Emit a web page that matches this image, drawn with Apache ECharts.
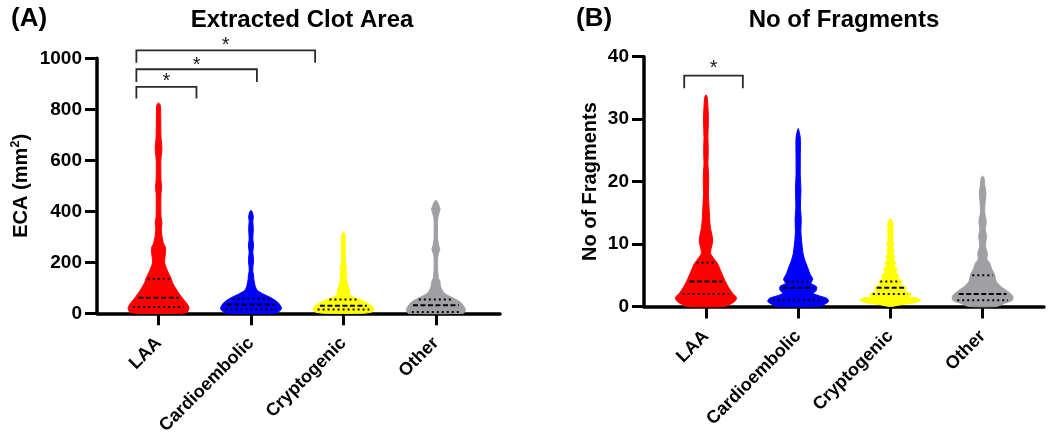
<!DOCTYPE html>
<html>
<head>
<meta charset="utf-8">
<script src="https://cdn.jsdelivr.net/npm/echarts@6/dist/echarts.min.js"></script>
<style>html,body{margin:0;padding:0;background:#fff}#c{width:1050px;height:439px}</style>
</head>
<body>
<div id="c"></div>
<script>
// ---------- data ----------
const categories = ['LAA', 'Cardioembolic', 'Cryptogenic', 'Other'];
const violinColors = ['#ff0000', '#0000ff', '#ffff00', '#a0a0a4'];

const ecaTicks = [0, 200, 400, 600, 800, 1000];
const fragTicks = [0, 10, 20, 30, 40];

// violin outlines: [value, relative half-width (1 = widest)]
const ecaLAA = [[0,0.75],[5,0.95],[20,1.0],[38,0.93],[60,0.78],[85,0.63],[117,0.47],[140,0.4],[165,0.3],[196,0.2],[220,0.21],[240,0.23],[258,0.23],[275,0.16],[300,0.115],[330,0.09],[353,0.11],[380,0.08],[420,0.075],[470,0.08],[495,0.1],[520,0.08],[600,0.075],[645,0.11],[690,0.08],[780,0.07],[815,0.06],[825,0]];
const ecaCardio = [[0,0.8],[8,0.93],[18,1.0],[31,0.96],[44,0.87],[58,0.7],[71,0.48],[77,0.38],[90,0.2],[110,0.13],[136,0.09],[149,0.085],[165,0.06],[185,0.065],[201,0.08],[221,0.075],[240,0.06],[267,0.085],[290,0.06],[332,0.075],[360,0.06],[378,0.075],[395,0.05],[404,0]];
const ecaCrypto = [[0,0.65],[5,0.92],[14,1.0],[25,0.96],[38,0.82],[51,0.6],[64,0.33],[75,0.2],[84,0.2],[97,0.18],[110,0.14],[120,0.13],[132,0.09],[149,0.11],[165,0.08],[182,0.1],[195,0.07],[230,0.06],[290,0.06],[310,0.05],[319,0]];
const ecaOther = [[0,0.9],[12,0.97],[25,0.93],[44,0.8],[58,0.6],[71,0.38],[84,0.24],[100,0.17],[116,0.14],[123,0.14],[140,0.08],[170,0.06],[220,0.06],[240,0.1],[250,0.13],[262,0.1],[290,0.06],[370,0.06],[395,0.11],[408,0.14],[420,0.11],[435,0.06],[443,0]];
// quartiles [Q1, median, Q3]
const ecaQuartiles = [[25,61,135],[16,35,57],[15,30,54],[5,32,54]];

const fragLAA = [[0,0.6],[0.5,0.85],[1.0,0.98],[1.5,1.0],[2.1,0.88],[3,0.75],[4,0.64],[5.3,0.52],[6.9,0.38],[7.4,0.3],[8.5,0.15],[9.3,0.17],[10.4,0.22],[11.4,0.2],[12.5,0.15],[14,0.12],[16,0.1],[18,0.08],[20.5,0.09],[22.9,0.065],[25,0.075],[27,0.065],[30,0.08],[32,0.065],[33.5,0.04],[33.9,0]];
const fragCardio = [[0,0.7],[0.3,0.85],[0.8,1.0],[1.3,0.95],[1.7,0.7],[2.1,0.5],[2.6,0.6],[3.2,0.6],[3.7,0.42],[4.35,0.48],[5.3,0.38],[6.4,0.3],[7.4,0.22],[8.5,0.16],[10.6,0.11],[12,0.09],[13.9,0.1],[16,0.075],[18.7,0.09],[21,0.07],[24,0.07],[27,0.07],[28.5,0]];
const fragCrypto = [[0,0.04],[0.3,0.35],[0.6,0.8],[1,1.0],[1.4,0.85],[1.5,0.62],[2,0.68],[2.5,0.45],[3,0.53],[3.5,0.33],[4,0.39],[4.5,0.24],[5,0.28],[5.5,0.18],[6,0.22],[6.5,0.13],[7,0.17],[7.5,0.11],[8,0.145],[8.5,0.09],[9,0.11],[9.5,0.08],[10,0.11],[10.5,0.07],[11,0.09],[11.5,0.07],[12,0.09],[12.5,0.07],[13,0.09],[13.6,0.07],[14.1,0]];
const fragOther = [[0,0.45],[0.5,0.72],[1.0,0.98],[1.5,1.0],[1.8,0.97],[2.4,0.83],[3.2,0.6],[4,0.45],[4.8,0.41],[5.3,0.38],[6,0.3],[6.9,0.24],[7.6,0.14],[8.5,0.16],[9.5,0.1],[10.2,0.1],[11.2,0.13],[12.3,0.09],[13.6,0.12],[15,0.07],[16.5,0.08],[18.1,0.11],[19.5,0.07],[20.5,0.05],[20.9,0]];
const fragQuartiles = [[2,4,7],[1,3,4],[2,3,4],[1,2,5]];

// significance brackets: [x start, x end, bar value, leg end value, star value] (x in category units)
const ecaBrackets = [[-0.24,0.41,888,842,923],[-0.24,1.064,957,907,989],[-0.24,1.694,1031,983,1064]];
const fragBrackets = [[-0.236,0.40,36.96,34.94,38.7]];

// ---------- chart ----------
const FONT = 'Arial, "Liberation Sans", sans-serif';
const HALF = 0.33;

function densityAt(prof, v) {
  for (let k = 1; k < prof.length; k++) {
    if (v <= prof[k][0]) {
      const a = prof[k-1], b = prof[k];
      const t = (v - a[0]) / (b[0] - a[0]);
      return a[1] + t * (b[1] - a[1]);
    }
  }
  return 0;
}

function violinRender(profiles, quartiles) {
  return function (params, api) {
    const i = params.dataIndex;
    const prof = profiles[i];
    const right = prof.map(p => api.coord([i + p[1] * HALF, p[0]]));
    const left = prof.slice(0, prof.length - 1).reverse().map(p => api.coord([i - p[1] * HALF, p[0]]));
    const pts = right.concat(left);
    const children = [{
      type: 'polygon',
      shape: { points: pts, smooth: 0.2 },
      style: { fill: violinColors[i], stroke: violinColors[i], lineWidth: 1 }
    }];
    quartiles[i].forEach((v, k) => {
      const w = densityAt(prof, v) * HALF * 0.85;
      const a = api.coord([i - w, v]), b = api.coord([i + w, v]);
      children.push({
        type: 'line',
        shape: { x1: a[0], y1: a[1], x2: b[0], y2: b[1] },
        style: { stroke: '#000', lineWidth: 2, lineDash: k === 1 ? [5, 2.5] : [2, 3] }
      });
    });
    return { type: 'group', children };
  };
}

function bracketRender(brackets) {
  return function (params, api) {
    const b = brackets[params.dataIndex];
    const p1 = api.coord([b[0], b[3]]), p2 = api.coord([b[0], b[2]]);
    const p3 = api.coord([b[1], b[2]]), p4 = api.coord([b[1], b[3]]);
    const s = api.coord([(b[0] + b[1]) / 2, b[4]]);
    return {
      type: 'group',
      children: [
        { type: 'polyline', shape: { points: [p1, p2, p3, p4] }, style: { stroke: '#2a2a2a', lineWidth: 1.8, fill: null } },
        { type: 'text', x: s[0], y: s[1] + 4, style: { text: '*', font: '20px ' + FONT, fill: '#1a1a1a', align: 'center', verticalAlign: 'middle' } }
      ]
    };
  };
}

function xAxisCfg(gridIndex, min, max) {
  return {
    gridIndex, type: 'value', min, max,
    axisLine: { show: true, lineStyle: { color: '#000', width: 3.5 } },
    axisTick: { show: true, customValues: [0, 1, 2, 3], length: 12, lineStyle: { color: '#000', width: 3 } },
    axisLabel: {
      customValues: [0, 1, 2, 3], rotate: 45, margin: 27,
      formatter: v => categories[Math.round(v)],
      fontFamily: FONT, fontWeight: 'bold', fontSize: 18, color: '#000'
    },
    splitLine: { show: false }
  };
}

function yAxisCfg(gridIndex, ticks, name, nameGap, rich) {
  return {
    gridIndex, type: 'value', min: ticks[0], max: ticks[ticks.length - 1], interval: ticks[1] - ticks[0],
    name, nameLocation: 'middle', nameGap,
    nameTextStyle: { fontFamily: FONT, fontWeight: 'bold', fontSize: 20, color: '#000', rich },
    axisLine: { show: true, onZero: false, lineStyle: { color: '#000', width: 3.5 } },
    axisTick: { show: true, length: 12, lineStyle: { color: '#000', width: 3 } },
    axisLabel: { margin: 15, fontFamily: FONT, fontWeight: 'bold', fontSize: 19, color: '#000', formatter: v => String(v) },
    splitLine: { show: false }
  };
}

const chart = echarts.init(document.getElementById('c'), null, { renderer: 'canvas' });
const catData = categories.map((c, i) => [i, 0]);

chart.setOption({
  backgroundColor: '#fff',
  animation: false,
  title: [
    { text: '(A)', left: 6, top: 1, textStyle: { fontFamily: FONT, fontWeight: 'bold', fontSize: 26, color: '#000' } },
    { text: 'Extracted Clot Area', left: 297, top: 3, textAlign: 'center', textStyle: { fontFamily: FONT, fontWeight: 'bold', fontSize: 24, color: '#000' } },
    { text: '(B)', left: 571, top: 1, textStyle: { fontFamily: FONT, fontWeight: 'bold', fontSize: 26, color: '#000' } },
    { text: 'No of Fragments', left: 839, top: 3, textAlign: 'center', textStyle: { fontFamily: FONT, fontWeight: 'bold', fontSize: 24, color: '#000' } }
  ],
  grid: [
    { left: 97, top: 58.3, width: 403, height: 255, containLabel: false, outerBoundsMode: 'none' },
    { left: 644, top: 56.7, width: 400, height: 249.8, containLabel: false, outerBoundsMode: 'none' }
  ],
  xAxis: [xAxisCfg(0, -0.666, 3.694), xAxisCfg(1, -0.672, 3.666)],
  yAxis: [
    yAxisCfg(0, ecaTicks, '{a|ECA (mm}{s|2}{a|)}', 64, {
      a: { fontFamily: FONT, fontWeight: 'bold', fontSize: 20, color: '#000', lineHeight: 24 },
      s: { fontFamily: FONT, fontWeight: 'bold', fontSize: 13, color: '#000', lineHeight: 14, verticalAlign: 'top' }
    }),
    yAxisCfg(1, fragTicks, 'No of Fragments', 44)
  ],
  series: [
    { type: 'custom', xAxisIndex: 0, yAxisIndex: 0, clip: false, data: catData,
      renderItem: violinRender([ecaLAA, ecaCardio, ecaCrypto, ecaOther], ecaQuartiles) },
    { type: 'custom', xAxisIndex: 1, yAxisIndex: 1, clip: false, data: catData,
      renderItem: violinRender([fragLAA, fragCardio, fragCrypto, fragOther], fragQuartiles) },
    { type: 'custom', xAxisIndex: 0, yAxisIndex: 0, clip: false, data: ecaBrackets.map((b, i) => [i, 0]),
      renderItem: bracketRender(ecaBrackets) },
    { type: 'custom', xAxisIndex: 1, yAxisIndex: 1, clip: false, data: fragBrackets.map((b, i) => [i, 0]),
      renderItem: bracketRender(fragBrackets) }
  ]
});
</script>
</body>
</html>
